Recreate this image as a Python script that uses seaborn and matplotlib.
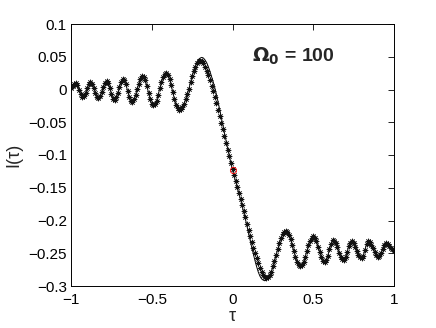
import numpy as np
import matplotlib
matplotlib.use('Agg')
import matplotlib.pyplot as plt
import seaborn as sns

# dotted series (asterisks), sampled every 0.01 from -1 to 1
tau = np.linspace(-1, 1, 201)
I_star = [
    0.002, 0.006, 0.009, 0.010, 0.007, 0.000, -0.007, -0.011, -0.010, -0.005,
    0.002, 0.008, 0.011, 0.009, 0.003, -0.005, -0.011, -0.013, -0.010, -0.004,
    0.004, 0.010, 0.013, 0.010, 0.003, -0.007, -0.014, -0.016, -0.012, -0.005,
    0.004, 0.011, 0.016, 0.015, 0.008, -0.002, -0.011, -0.018, -0.019, -0.015,
    -0.008, 0.001, 0.009, 0.016, 0.020, 0.019, 0.014, 0.005, -0.005, -0.015,
    -0.022, -0.024, -0.022, -0.017, -0.008, 0.002, 0.011, 0.019, 0.024, 0.025,
    0.022, 0.016, 0.007, -0.004, -0.014, -0.023, -0.029, -0.031, -0.030, -0.027,
    -0.022, -0.015, -0.007, 0.001, 0.011, 0.020, 0.028, 0.034, 0.040, 0.043,
    0.044, 0.043, 0.040, 0.035, 0.029, 0.022, 0.014, 0.006, -0.002, -0.011,
    -0.021, -0.031, -0.041, -0.051, -0.061, -0.071, -0.081, -0.092, -0.102, -0.112,
    -0.122, -0.131, -0.140, -0.149, -0.158, -0.167, -0.176, -0.185, -0.195, -0.205,
    -0.215, -0.224, -0.233, -0.242, -0.250, -0.258, -0.265, -0.272, -0.278, -0.283,
    -0.286, -0.288, -0.287, -0.283, -0.278, -0.270, -0.262, -0.252, -0.243, -0.234,
    -0.227, -0.221, -0.217, -0.216, -0.217, -0.222, -0.229, -0.238, -0.247, -0.256,
    -0.264, -0.268, -0.270, -0.268, -0.263, -0.256, -0.247, -0.238, -0.231, -0.226,
    -0.224, -0.226, -0.232, -0.240, -0.248, -0.256, -0.262, -0.264, -0.261, -0.254,
    -0.244, -0.236, -0.230, -0.231, -0.235, -0.241, -0.249, -0.255, -0.259, -0.260,
    -0.255, -0.248, -0.239, -0.234, -0.232, -0.234, -0.240, -0.246, -0.252, -0.256,
    -0.258, -0.254, -0.245, -0.236, -0.232, -0.233, -0.237, -0.242, -0.248, -0.253,
    -0.255, -0.254, -0.249, -0.243, -0.237, -0.235, -0.236, -0.239, -0.242, -0.244,
    -0.246,
]

# solid curve, where it parts from the asterisks (tau -0.30 .. 0.30)
tau_mid = np.linspace(-0.3, 0.3, 61)
I_line_mid = [
    -0.022, -0.015, -0.007, 0.001, 0.011, 0.020, 0.029, 0.036, 0.042, 0.046,
    0.048, 0.049, 0.048, 0.045, 0.041, 0.035, 0.028, 0.020, 0.012, 0.003,
    -0.007, -0.018, -0.030, -0.042, -0.054, -0.066, -0.078, -0.090, -0.101, -0.112,
    -0.123, -0.132, -0.141, -0.150, -0.159, -0.168, -0.178, -0.188, -0.198, -0.209,
    -0.220, -0.231, -0.242, -0.252, -0.262, -0.271, -0.279, -0.285, -0.289, -0.291,
    -0.292, -0.291, -0.289, -0.285, -0.279, -0.271, -0.262, -0.253, -0.244, -0.235,
    -0.227,
]

center_tau = [0.0]
center_I = [-0.123]

xticks = [-1, -0.5, 0, 0.5, 1]
xticklabels = ['\u22121', '\u22120.5', '0', '0.5', '1']
yticks = [0.1, 0.05, 0, -0.05, -0.1, -0.15, -0.2, -0.25, -0.3]
yticklabels = ['0.1', '0.05', '0', '\u22120.05', '\u22120.1', '\u22120.15',
               '\u22120.2', '\u22120.25', '\u22120.3']

sns.set_style('white')
plt.rcParams['font.family'] = ['Liberation Sans', 'DejaVu Sans']

I_star = np.array(I_star)
left = tau < -0.305
right = tau > 0.305
line_tau = np.concatenate([tau[left], tau_mid, tau[right]])
line_I = np.concatenate([I_star[left], I_line_mid, I_star[right]])

fig = plt.figure(figsize=(4.36, 3.28), dpi=100)
ax = fig.add_axes([71 / 436, 1 - 286 / 328, 323 / 436, 262 / 328])

sns.lineplot(x=line_tau, y=line_I, color='k', linewidth=0.7, ax=ax)
sns.lineplot(x=tau, y=I_star, color='k', linestyle='', marker=(8, 2, 0),
             markersize=4, markeredgewidth=0.5, markeredgecolor='#111111', ax=ax)
ax.plot(center_tau, center_I, 'o', markersize=4.5, markerfacecolor='none',
        markeredgecolor='red', markeredgewidth=0.6)

ax.text(0.12, 0.042, r'$\mathbf{\Omega_0}$ = 100', fontsize=14, fontweight='bold',
        ha='left', va='baseline')

ax.set_xlim(-1, 1)
ax.set_ylim(-0.3, 0.1)
ax.set_xticks(xticks)
ax.set_xticklabels(xticklabels)
ax.set_yticks(yticks)
ax.set_yticklabels(yticklabels)
ax.tick_params(direction='in', length=4, width=0.6, labelsize=11, top=True, right=True,
               color='k', labelcolor='k')
ax.tick_params(axis='y', pad=3)
ax.tick_params(axis='x', pad=5)
for s in ax.spines.values():
    s.set_color('k')
    s.set_linewidth(0.7)

ax.set_xlabel('\u03c4', fontsize=13)
ax.set_ylabel('I(\u03c4)', fontsize=13)
ax.xaxis.set_label_coords(0.5, -0.085)
ax.yaxis.set_label_coords(-0.15, 0.5)

fig.savefig('out.png', dpi=100)
